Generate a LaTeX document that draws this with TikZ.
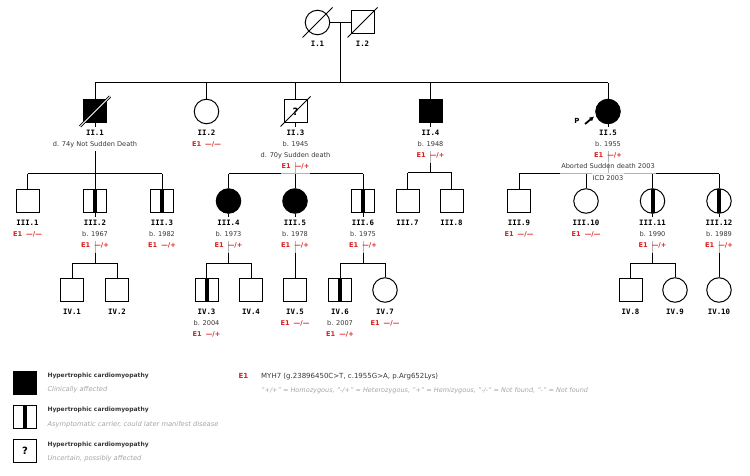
\documentclass[tikz,border=0pt]{standalone}
\usepackage{fontspec}
\setmainfont{DejaVu Sans}
\newfontfamily\lblfont{DejaVu Sans Mono}
\usepackage{tikz}
\usepackage{xcolor}
\usetikzlibrary{positioning,arrows.meta,calc}

\definecolor{e1red}{RGB}{220,30,30}
\definecolor{txtgray}{RGB}{55,55,55}
\definecolor{leggray}{RGB}{165,165,165}

\tikzset{
  person/.style={draw, line width=1pt, inner sep=0pt, fill=white},
  male/.style={person, rectangle, minimum size=23pt},
  female/.style={person, circle, minimum size=24.5pt},
  affected/.style={fill=black},
  carrier/.style={path picture={\fill[black] ([xshift=-2pt]path picture bounding box.south) rectangle ([xshift=2pt]path picture bounding box.north);}},
  qmark/.style={font=\bfseries\fontsize{10}{10}\selectfont},
  plabel/.style={font=\lblfont\bfseries\fontsize{7.4}{8}\selectfont, text height=8.5pt, text depth=4pt, inner xsep=1pt, inner ysep=0pt, fill=white},
  pnote/.style={font=\fontsize{6.6}{8}\selectfont, text=txtgray, text height=7pt, text depth=4pt, inner xsep=1pt, inner ysep=0pt, fill=white},
  gnote/.style={pnote, fill opacity=0.7, text opacity=1, text depth=5pt},
  legtitle/.style={font=\bfseries\fontsize{6}{7}\selectfont, text=txtgray, inner sep=0pt},
  legsub/.style={font=\itshape\fontsize{6.7}{7}\selectfont, text=leggray, inner sep=0pt},
}

% genotype line and one text line below a person
\newcommand{\gen}[1]{\textcolor{e1red}{\bfseries E1\hspace{4pt}#1}}
\newcommand{\pline}[4][pnote]{%
  \node[#1, anchor=base] (#2t#3) at ([yshift={-24.5pt-#3*11pt}]#2.center) {#4};}
\newcommand{\deceased}[1]{%
  \draw[line width=1pt] ([shift={(-15pt,-15pt)}]#1.center) -- ([shift={(15pt,15pt)}]#1.center);}

\begin{document}
\begin{tikzpicture}[x=1pt, y=-1pt, line width=1pt]
\useasboundingbox (0,0) rectangle (750,476);

% Generation I
\node[female] (i1) at (317.5,22.5) {};
\node[male] (i2) at (362.5,22.5) {};

% Generation II
\node[male, affected] (ii1) at (95,111.5) {};
\node[female] (ii2) at (206.5,111.5) {};
\node[male, qmark] (ii3) at (295.5,111.5) {?};
\node[male, affected] (ii4) at (430.5,111.5) {};
\node[female, affected] (ii5) at (608,111.5) {};

% Generation III
\node[male] (iii1) at (27.5,201) {};
\node[male, carrier] (iii2) at (95,201) {};
\node[male, carrier] (iii3) at (162,201) {};
\node[female, affected] (iii4) at (228.5,201) {};
\node[female, affected] (iii5) at (295,201) {};
\node[male, carrier] (iii6) at (363,201) {};
\node[male] (iii7) at (407.5,201) {};
\node[male] (iii8) at (451.5,201) {};
\node[male] (iii9) at (519,201) {};
\node[female] (iii10) at (586,201) {};
\node[female, carrier] (iii11) at (652.5,201) {};
\node[female, carrier] (iii12) at (719,201) {};

% Generation IV
\node[male] (iv1) at (72,290) {};
\node[male] (iv2) at (117,290) {};
\node[male, carrier] (iv3) at (206.5,290) {};
\node[male] (iv4) at (251,290) {};
\node[male] (iv5) at (295,290) {};
\node[male, carrier] (iv6) at (340,290) {};
\node[female] (iv7) at (385,290) {};
\node[male] (iv8) at (630.5,290) {};
\node[female] (iv9) at (675,290) {};
\node[female] (iv10) at (719,290) {};

% Lines of descent
\coordinate (c1) at ($(i1)!0.5!(i2)$);
\coordinate (s1) at (340,83);
\draw (i1) -- (i2);
\draw (c1) -- (s1);
\draw (ii1 |- s1) -- (ii5 |- s1);
\foreach \p in {ii1,ii2,ii3,ii4,ii5} \draw (\p |- s1) -- (\p);

\coordinate (s2a) at (95,174);
\coordinate (s2b) at (295.5,174);
\coordinate (s2c) at (430.5,173);
\coordinate (s2d) at (608,174);
\draw (ii1) -- (s2a);
\draw (iii1 |- s2a) -- (iii3 |- s2a);
\foreach \p in {iii1,iii2,iii3} \draw (\p |- s2a) -- (\p);
\draw (ii3) -- (s2b);
\draw (iii4 |- s2b) -- (iii6 |- s2b);
\foreach \p in {iii4,iii5,iii6} \draw (\p |- s2b) -- (\p);
\draw (ii4) -- (s2c);
\draw (iii7 |- s2c) -- (iii8 |- s2c);
\foreach \p in {iii7,iii8} \draw (\p |- s2c) -- (\p);
\draw (ii5) -- (s2d);
\draw (iii9 |- s2d) -- (iii12 |- s2d);
\foreach \p in {iii9,iii10,iii11,iii12} \draw (\p |- s2d) -- (\p);

\coordinate (s3a) at (95,263);
\coordinate (s3b) at (228.5,263);
\coordinate (s3c) at (363,263);
\coordinate (s3d) at (652.5,263);
\draw (iii2) -- (s3a);
\draw (iv1 |- s3a) -- (iv2 |- s3a);
\foreach \p in {iv1,iv2} \draw (\p |- s3a) -- (\p);
\draw (iii4) -- (s3b);
\draw (iv3 |- s3b) -- (iv4 |- s3b);
\foreach \p in {iv3,iv4} \draw (\p |- s3b) -- (\p);
\draw (iii5) -- (iv5);
\draw (iii6) -- (s3c);
\draw (iv6 |- s3c) -- (iv7 |- s3c);
\foreach \p in {iv6,iv7} \draw (\p |- s3c) -- (\p);
\draw (iii11) -- (s3d);
\draw (iv8 |- s3d) -- (iv9 |- s3d);
\foreach \p in {iv8,iv9} \draw (\p |- s3d) -- (\p);
\draw (iii12) -- (iv10);

% Deceased
\deceased{i1}
\deceased{i2}
\deceased{ii3}
\draw[line width=2.8pt] ([shift={(-15pt,-15pt)}]ii1.center) -- ([shift={(15pt,15pt)}]ii1.center);
\draw[white, line width=0.9pt] ([shift={(-15pt,-15pt)}]ii1.center) -- ([shift={(15pt,15pt)}]ii1.center);

% Proband
\node[font=\bfseries\fontsize{7}{8}\selectfont, inner sep=0pt] (pmark) at (577,121) {P};
\draw[line width=1.8pt, -{Latex[length=4.5pt,width=5pt]}] ([shift={(5pt,-3pt)}]pmark.east) -- ([shift={(-5pt,4pt)}]ii5.225);

% Texts
\node[font=\lblfont\bfseries\fontsize{7.4}{8}\selectfont, anchor=base] (i1t0) at ([yshift=-24.5pt]i1.center) {I.1};
\node[font=\lblfont\bfseries\fontsize{7.4}{8}\selectfont, anchor=base] (i2t0) at ([yshift=-24.5pt]i2.center) {I.2};

\pline[plabel]{ii1}{0}{II.1}
\pline{ii1}{1}{d. 74y Not Sudden Death}
\pline[plabel]{ii2}{0}{II.2}
\pline[gnote]{ii2}{1}{\gen{—/—}}
\pline[plabel]{ii3}{0}{II.3}
\pline{ii3}{1}{b. 1945}
\pline{ii3}{2}{d. 70y Sudden death}
\pline[gnote]{ii3}{3}{\gen{—/+}}
\pline[plabel]{ii4}{0}{II.4}
\pline{ii4}{1}{b. 1948}
\pline[gnote]{ii4}{2}{\gen{—/+}}
\pline[plabel]{ii5}{0}{II.5}
\pline{ii5}{1}{b. 1955}
\pline[gnote]{ii5}{2}{\gen{—/+}}
\pline[gnote]{ii5}{3}{Aborted Sudden death 2003}
\pline[gnote]{ii5}{4}{ICD 2003}

\pline[plabel]{iii1}{0}{III.1}
\pline[gnote]{iii1}{1}{\gen{—/—}}
\pline[plabel]{iii2}{0}{III.2}
\pline{iii2}{1}{b. 1967}
\pline[gnote]{iii2}{2}{\gen{—/+}}
\pline[plabel]{iii3}{0}{III.3}
\pline{iii3}{1}{b. 1982}
\pline[gnote]{iii3}{2}{\gen{—/+}}
\pline[plabel]{iii4}{0}{III.4}
\pline{iii4}{1}{b. 1973}
\pline[gnote]{iii4}{2}{\gen{—/+}}
\pline[plabel]{iii5}{0}{III.5}
\pline{iii5}{1}{b. 1978}
\pline[gnote]{iii5}{2}{\gen{—/+}}
\pline[plabel]{iii6}{0}{III.6}
\pline{iii6}{1}{b. 1975}
\pline[gnote]{iii6}{2}{\gen{—/+}}
\pline[plabel]{iii7}{0}{III.7}
\pline[plabel]{iii8}{0}{III.8}
\pline[plabel]{iii9}{0}{III.9}
\pline[gnote]{iii9}{1}{\gen{—/—}}
\pline[plabel]{iii10}{0}{III.10}
\pline[gnote]{iii10}{1}{\gen{—/—}}
\pline[plabel]{iii11}{0}{III.11}
\pline{iii11}{1}{b. 1990}
\pline[gnote]{iii11}{2}{\gen{—/+}}
\pline[plabel]{iii12}{0}{III.12}
\pline{iii12}{1}{b. 1989}
\pline[gnote]{iii12}{2}{\gen{—/+}}

\pline[plabel]{iv1}{0}{IV.1}
\pline[plabel]{iv2}{0}{IV.2}
\pline[plabel]{iv3}{0}{IV.3}
\pline{iv3}{1}{b. 2004}
\pline[gnote]{iv3}{2}{\gen{—/+}}
\pline[plabel]{iv4}{0}{IV.4}
\pline[plabel]{iv5}{0}{IV.5}
\pline[gnote]{iv5}{1}{\gen{—/—}}
\pline[plabel]{iv6}{0}{IV.6}
\pline{iv6}{1}{b. 2007}
\pline[gnote]{iv6}{2}{\gen{—/+}}
\pline[plabel]{iv7}{0}{IV.7}
\pline[gnote]{iv7}{1}{\gen{—/—}}
\pline[plabel]{iv8}{0}{IV.8}
\pline[plabel]{iv9}{0}{IV.9}
\pline[plabel]{iv10}{0}{IV.10}

% Legend
\node[male, affected] (lgaff) at (25,382.5) {};
\node[male, carrier] (lgcar) at (25,416.5) {};
\node[male, qmark] (lgunc) at (25,451) {?};
\node[legtitle, anchor=base west] (lgafft) at ([shift={(10pt,5.3pt)}]lgaff.east) {Hypertrophic cardiomyopathy};
\node[legsub, anchor=base west] (lgaffs) at ([shift={(10pt,-8.9pt)}]lgaff.east) {Clinically affected};
\node[legtitle, anchor=base west] (lgcart) at ([shift={(10pt,5.3pt)}]lgcar.east) {Hypertrophic cardiomyopathy};
\node[legsub, anchor=base west] (lgcars) at ([shift={(10pt,-9.5pt)}]lgcar.east) {Asymptomatic carrier, could later manifest disease};
\node[legtitle, anchor=base west] (lgunct) at ([shift={(10pt,5pt)}]lgunc.east) {Hypertrophic cardiomyopathy};
\node[legsub, anchor=base west] (lguncs) at ([shift={(10pt,-9.2pt)}]lgunc.east) {Uncertain, possibly affected};

\node[font=\bfseries\fontsize{7}{8}\selectfont, text=e1red, inner sep=0pt, anchor=base west] (lge1) at (238,378.5) {E1};
\node[font=\fontsize{7}{8}\selectfont, text=txtgray, inner sep=0pt, anchor=base west] (lgmyh) at (260.7,378.5) {MYH7 (g.23896450C>T, c.1955G>A, p.Arg652Lys)};
\node[legsub, font=\itshape\fontsize{6.5}{7}\selectfont, anchor=base west] (lgkey) at (260.7,392.2) {"+/+" = Homozygous, "-/+" = Heterozygous, "+" = Hemizygous, "-/-" = Not found, "-" = Not found};
\end{tikzpicture}
\end{document}
